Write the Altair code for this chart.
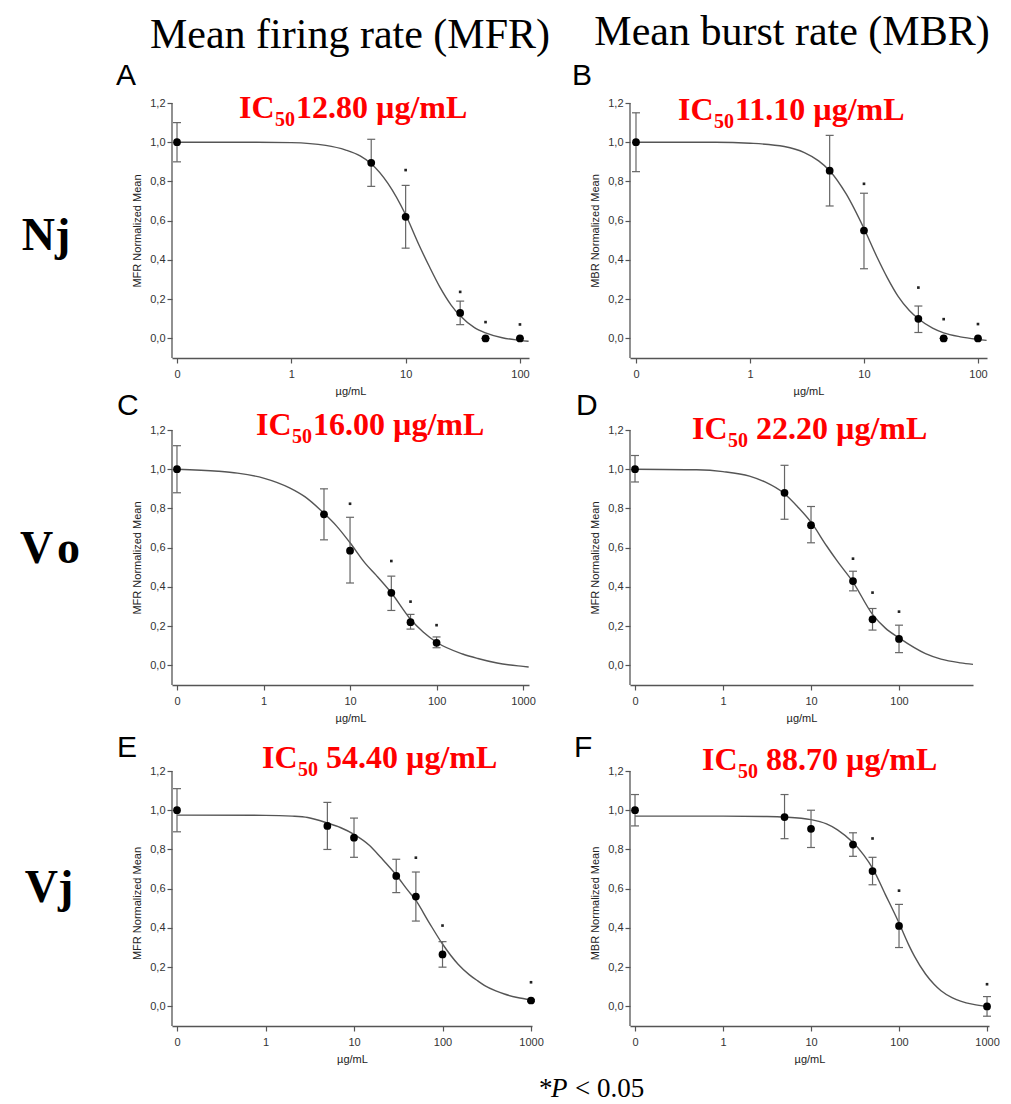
import altair as alt
import pandas as pd

# ---------------- data ----------------
# Panel A : Nj, mean firing rate
A_dose = [0, 5, 10, 30, 50, 100]
A_mean = [1.00, 0.895, 0.62, 0.13, 0.00, 0.00]
A_lo = [0.90, 0.775, 0.46, 0.07, 0.00, 0.00]
A_hi = [1.10, 1.015, 0.78, 0.19, 0.00, 0.00]
A_star_dose = [10, 30, 50, 100]
A_star_y = [0.858, 0.237, 0.083, 0.071]
A_curve_x = [0.1, 0.5, 1, 2, 3, 4, 5, 7, 10, 13, 16, 20, 25, 30, 40, 50, 70, 100, 119]
A_curve_y = [1.0, 1.0, 0.998, 0.984, 0.96, 0.93, 0.89, 0.79, 0.63, 0.48, 0.37, 0.26, 0.17, 0.115, 0.055, 0.028, 0.003, -0.01, -0.015]

# Panel B : Nj, mean burst rate
B_dose = [0, 5, 10, 30, 50, 100]
B_mean = [1.00, 0.855, 0.55, 0.10, 0.00, 0.00]
B_lo = [0.85, 0.675, 0.355, 0.03, 0.00, 0.00]
B_hi = [1.15, 1.035, 0.74, 0.165, 0.00, 0.00]
B_star_dose = [10, 30, 50, 100]
B_star_y = [0.788, 0.259, 0.098, 0.073]
B_curve_x = [0.1, 0.5, 1, 2, 3, 4, 5, 7, 10, 13, 16, 20, 25, 30, 40, 50, 70, 100, 119]
B_curve_y = [1.0, 1.0, 0.995, 0.978, 0.947, 0.905, 0.855, 0.735, 0.56, 0.415, 0.31, 0.213, 0.142, 0.10, 0.052, 0.028, 0.008, -0.005, -0.01]

# Panel C : Vo, mean firing rate
C_dose = [0, 5, 10, 30, 50, 100]
C_mean = [1.00, 0.77, 0.585, 0.37, 0.22, 0.115]
C_lo = [0.88, 0.64, 0.42, 0.28, 0.185, 0.09]
C_hi = [1.12, 0.90, 0.755, 0.455, 0.26, 0.145]
C_star_dose = [10, 30, 50, 100]
C_star_y = [0.824, 0.532, 0.325, 0.205]
C_curve_x = [0.1, 0.3, 0.5, 1, 2, 3, 5, 7, 10, 15, 20, 30, 50, 70, 100, 200, 300, 500, 1000, 1160]
C_curve_y = [1.0, 0.99, 0.98, 0.955, 0.905, 0.86, 0.775, 0.71, 0.625, 0.52, 0.46, 0.37, 0.235, 0.17, 0.118, 0.058, 0.035, 0.012, -0.005, -0.008]

# Panel D : Vo, mean burst rate
D_dose = [0, 5, 10, 30, 50, 100]
D_mean = [1.00, 0.88, 0.715, 0.43, 0.235, 0.135]
D_lo = [0.935, 0.745, 0.625, 0.38, 0.18, 0.065]
D_hi = [1.07, 1.02, 0.81, 0.48, 0.29, 0.205]
D_star_dose = [30, 50, 100]
D_star_y = [0.544, 0.371, 0.274]
D_curve_x = [0.1, 0.5, 1, 2, 3, 5, 7, 10, 15, 20, 30, 50, 70, 100, 200, 300, 500, 693]
D_curve_y = [1.0, 0.997, 0.988, 0.965, 0.935, 0.875, 0.81, 0.73, 0.61, 0.53, 0.425, 0.26, 0.19, 0.14, 0.06, 0.032, 0.013, 0.005]

# Panel E : Vj, mean firing rate
E_dose = [0, 5, 10, 30, 50, 100, 1000]
E_mean = [1.00, 0.92, 0.86, 0.665, 0.56, 0.265, 0.03]
E_lo = [0.89, 0.80, 0.76, 0.58, 0.435, 0.20, 0.025]
E_hi = [1.11, 1.04, 0.96, 0.75, 0.685, 0.33, 0.035]
E_star_dose = [50, 100, 1000]
E_star_y = [0.758, 0.412, 0.123]
E_curve_x = [0.1, 1, 2, 3, 5, 7, 10, 15, 20, 30, 40, 50, 70, 100, 150, 200, 250, 300, 400, 500, 700, 1000]
E_curve_y = [0.975, 0.974, 0.97, 0.963, 0.935, 0.912, 0.877, 0.82, 0.76, 0.67, 0.595, 0.54, 0.43, 0.318, 0.215, 0.162, 0.13, 0.106, 0.079, 0.063, 0.045, 0.033]

# Panel F : Vj, mean burst rate
F_dose = [0, 5, 10, 30, 50, 100, 1000]
F_mean = [1.00, 0.965, 0.905, 0.825, 0.69, 0.41, 0.00]
F_lo = [0.92, 0.855, 0.81, 0.765, 0.62, 0.30, -0.05]
F_hi = [1.08, 1.08, 1.00, 0.885, 0.76, 0.52, 0.05]
F_star_dose = [50, 100, 1000]
F_star_y = [0.856, 0.59, 0.113]
F_curve_x = [0.1, 1, 3, 5, 10, 15, 20, 30, 40, 50, 70, 100, 130, 150, 200, 250, 300, 400, 500, 700, 1000]
F_curve_y = [0.97, 0.97, 0.968, 0.965, 0.952, 0.93, 0.90, 0.835, 0.77, 0.705, 0.57, 0.425, 0.31, 0.255, 0.165, 0.113, 0.08, 0.045, 0.027, 0.01, 0.0]

IC50_text = ["12.80 µg/mL", "11.10 µg/mL", "16.00 µg/mL", "22.20 µg/mL", "54.40 µg/mL", "88.70 µg/mL"]
Y_ticks = [0.0, 0.2, 0.4, 0.6, 0.8, 1.0, 1.2]

SERIF = "Liberation Serif"
SANS = "Liberation Sans"
RED = "#ff0000"


def txt(text, x, y, size, font, color="black", weight="normal", style="normal",
        align="left", baseline="alphabetic"):
    return alt.Chart(pd.DataFrame({"t": [text]})).mark_text(
        font=font, fontSize=size, fontWeight=weight, fontStyle=style, color=color,
        align=align, baseline=baseline
    ).encode(x=alt.value(x), y=alt.value(y), text="t:N")


def panel(dose, mean, lo, hi, sdose, sy, cx, cy, xdom, xticks, w, h, ytop, ytitle,
          letter, lpos, ic, icpos, gap, extras, title_y=None):
    xs = alt.Scale(type="log", domain=xdom, nice=False)
    ys = alt.Scale(domain=[-0.1, ytop], nice=False, zero=False)
    xax = alt.Axis(values=xticks, title="µg/mL", grid=False,
                   labelExpr="datum.value < 0.5 ? '0' : format(datum.value, 'd')",
                   labelPadding=5, titlePadding=6, tickSize=5, labelFlush=False,
                   labelOverlap=False)
    yargs = dict(values=Y_ticks, title=ytitle, grid=False, domain=False,
                 labelExpr="replace(format(datum.value, '.1f'), '.', ',')",
                 labelPadding=2, titlePadding=7, tickSize=5)
    if title_y is not None:
        yargs["titleY"] = title_y
    yax = alt.Axis(**yargs)

    def X(f):
        return alt.X(f"{f}:Q", scale=xs, axis=xax)

    def Y(f):
        return alt.Y(f"{f}:Q", scale=ys, axis=yax)

    pts = alt.Chart(pd.DataFrame({"dose": dose, "mean": mean, "lo": lo, "hi": hi})
                    ).transform_calculate(xp="datum.dose == 0 ? 0.1 : datum.dose")
    curve = alt.Chart(pd.DataFrame({"cx": cx, "cy": cy})).mark_line(
        color="#555555", strokeWidth=1.4, interpolate="monotone"
    ).encode(x=X("cx"), y=Y("cy"))
    err = pts.mark_rule(color="#666666", strokeWidth=1.2).encode(
        x=X("xp"), y=Y("lo"), y2="hi:Q")
    cap_lo = pts.mark_point(shape="stroke", size=64, color="#666666", strokeWidth=1.2,
                            opacity=1).encode(x=X("xp"), y=Y("lo"))
    cap_hi = pts.mark_point(shape="stroke", size=64, color="#666666", strokeWidth=1.2,
                            opacity=1).encode(x=X("xp"), y=Y("hi"))
    dots = pts.mark_point(filled=True, size=60, color="black", opacity=1).encode(
        x=X("xp"), y=Y("mean"))
    stars = alt.Chart(pd.DataFrame({"sd": sdose, "sy": sy})).mark_point(
        filled=True, shape="square", size=7, color="#222222", opacity=1
    ).encode(x=X("sd"), y=Y("sy"))
    yline = alt.Chart(pd.DataFrame({"y1": [1.2], "y0": [-0.1]})).mark_rule(
        color="#555555", strokeWidth=1.3
    ).encode(x=alt.value(0), y=Y("y1"), y2="y0:Q")

    layers = [curve, err, cap_lo, cap_hi, dots, stars, yline,
              txt(letter, lpos[0], lpos[1], 30, SANS),
              txt("IC", icpos[0], icpos[1], 32, SERIF, RED, "bold"),
              txt("50", icpos[0] + 36, icpos[1] + 8, 20, SERIF, RED, "bold"),
              txt(ic, icpos[0] + 57 + gap, icpos[1], 32, SERIF, RED, "bold")]
    layers += extras
    return alt.layer(*layers).properties(width=w, height=h)


ROW3_TOP = 1.2 + 14 * 1.3 / 255

pA = panel(A_dose, A_mean, A_lo, A_hi, A_star_dose, A_star_y, A_curve_x, A_curve_y,
           [0.0904, 120], [0.1, 1, 10, 100], 357, 255, 1.2, "MFR Normalized Mean",
           "A", (-56, -18), IC50_text[0], (67, 15), 0,
           [txt("Nj", -126, 147, 46, SERIF, weight="bold", align="center"),
            txt("Mean firing rate (MFR)", 178, -55, 42, SERIF, align="center")])
pB = panel(B_dose, B_mean, B_lo, B_hi, B_star_dose, B_star_y, B_curve_x, B_curve_y,
           [0.0886, 120], [0.1, 1, 10, 100], 357, 255, 1.2, "MBR Normalized Mean",
           "B", (-58, -18), IC50_text[1], (48, 17), 0,
           [txt("Mean burst rate (MBR)", 162, -58, 42, SERIF, align="center")])
pC = panel(C_dose, C_mean, C_lo, C_hi, C_star_dose, C_star_y, C_curve_x, C_curve_y,
           [0.0876, 1170], [0.1, 1, 10, 100, 1000], 357, 255, 1.2, "MFR Normalized Mean",
           "C", (-55, -15), IC50_text[2], (84, 5), 0,
           [txt("V", -152, 133, 46, SERIF, weight="bold"),
            txt("o", -115, 133, 46, SERIF, weight="bold")])
pD = panel(D_dose, D_mean, D_lo, D_hi, D_star_dose, D_star_y, D_curve_x, D_curve_y,
           [0.0877, 693], [0.1, 1, 10, 100], 343, 255, 1.2, "MFR Normalized Mean",
           "D", (-54, -15), IC50_text[3], (62, 9), 7, [])
pE = panel(E_dose, E_mean, E_lo, E_hi, E_star_dose, E_star_y, E_curve_x, E_curve_y,
           [0.0878, 1026], [0.1, 1, 10, 100, 1000], 360, 269, ROW3_TOP, "MFR Normalized Mean",
           "E", (-55, 0), IC50_text[4], (90, 11), 7,
           [txt("Vj", -123, 145, 46, SERIF, weight="bold", align="center")], title_y=146)
pF = panel(F_dose, F_mean, F_lo, F_hi, F_star_dose, F_star_y, F_curve_x, F_curve_y,
           [0.0877, 1053], [0.1, 1, 10, 100, 1000], 359, 269, ROW3_TOP, "MBR Normalized Mean",
           "F", (-56, 0), IC50_text[5], (72, 13), 7,
           [txt("*", -91, 340, 27, SERIF),
            txt("P", -79, 340, 27, SERIF, style="italic"),
            txt("< 0.05", -55, 340, 27, SERIF)], title_y=146)

chart = alt.concat(pA, pB, pC, pD, pE, pF, columns=2,
                   spacing={"row": 72, "column": 98}, bounds="flush").properties(
    padding={"left": 12, "top": 3, "right": 0, "bottom": 0}
).configure_view(stroke=None).configure_axis(
    labelFont=SANS, titleFont=SANS, labelFontSize=11, titleFontSize=11,
    labelColor="#333333", titleColor="#222222", titleFontWeight="normal",
    domainColor="#555555", tickColor="#555555", domainWidth=1.3, tickWidth=1.2
)

chart.save("out.html", embed_options={"renderer": "svg", "actions": False})
